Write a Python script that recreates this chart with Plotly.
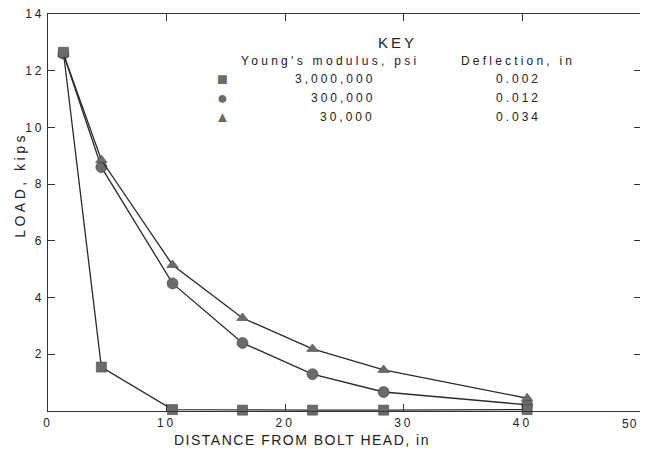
import plotly.graph_objects as go

distance = [1.3, 4.5, 10.5, 16.4, 22.3, 28.3, 40.4]
load_3000000 = [12.65, 1.55, 0.05, 0.03, 0.03, 0.03, 0.05]
load_300000 = [12.6, 8.6, 4.5, 2.4, 1.3, 0.67, 0.22]
load_30000 = [12.6, 8.85, 5.15, 3.28, 2.19, 1.45, 0.45]

key_moduli = ["3,000,000", "300,000", "30,000"]
key_deflections = ["0.002", "0.012", "0.034"]
key_symbols = ["■", "●", "▲"]

x_ticks = [0, 10, 20, 30, 40, 50]
y_ticks = [2, 4, 6, 8, 10, 12, 14]

FONT = "Liberation Sans"
MCOL = "#6b6b6b"
LCOL = "#2a2a2a"
TCOL = "#222222"


def spaced(text, ls):
    return f'<span style="letter-spacing:{ls}px">{text}</span>'


fig = go.Figure()
series = [
    (load_300000, "circle", 11),
    (load_30000, "triangle-up", 10),
    (load_3000000, "square", 10),
]
for ys, sym, sz in series:
    fig.add_trace(go.Scatter(
        x=distance, y=ys, mode="lines+markers",
        line=dict(color=LCOL, width=1.3),
        marker=dict(symbol=sym, size=sz, color=MCOL,
                    line=dict(color="#444444", width=0.6)),
        showlegend=False, cliponaxis=False,
    ))

axis_common = dict(
    showline=True, linecolor="#333333", linewidth=1.2, mirror="ticks",
    ticks="inside", ticklen=7, tickcolor="#333333", tickwidth=1.2,
    showgrid=False, zeroline=False, ticklabeloverflow="allow",
    automargin=False,
    tickfont=dict(family=FONT, size=12, color=TCOL),
)
# the last x label sits at the very edge; it is drawn as a right-anchored label below
x_ticktext = [spaced(str(v), 3) if v < x_ticks[-1] else "" for v in x_ticks]
fig.update_xaxes(range=[0, 50], tickvals=x_ticks, ticktext=x_ticktext, **axis_common)
fig.update_yaxes(range=[0, 14], tickvals=y_ticks,
                 ticktext=[spaced(str(v), 3) for v in y_ticks], **axis_common)

ann = []


def T(text, x, y, xanchor="center", size=12, color=TCOL, ls=3, angle=0):
    ann.append(dict(text=spaced(text, ls) if ls else text, x=x, y=y,
                    xref="paper", yref="paper", textangle=angle,
                    xanchor=xanchor, yanchor="middle", showarrow=False,
                    font=dict(family=FONT, size=size, color=color)))


T("KEY", 0.589, 0.929, size=15, ls=3)
T("Young's modulus, psi", 0.477, 0.882, size=12, ls=3.3)
T("Deflection, in", 0.793, 0.882, size=12, ls=3.2)
rows_y = [0.836, 0.788, 0.741]
sym_sizes = [18, 18, 15]
for sym, ss, mod, dfl, yy in zip(key_symbols, sym_sizes, key_moduli, key_deflections, rows_y):
    T(sym, 0.295, yy, size=ss, color=MCOL, ls=0)
    T(mod, 0.555, yy, xanchor="right", size=12, ls=3)
    T(dfl, 0.793, yy, size=12, ls=3)

T(str(x_ticks[-1]), 0.996, -0.032, xanchor="right", size=12, ls=1)
T("DISTANCE FROM BOLT HEAD, in", 0.428, -0.073, size=14, ls=1.5)
T("LOAD, kips", -0.047, 0.57, size=14, ls=3.5, angle=-90)

fig.update_layout(
    width=640, height=442,
    margin=dict(l=40, r=7, t=6, b=39, autoexpand=False),
    paper_bgcolor="white", plot_bgcolor="white",
    annotations=ann,
)
fig.write_html("out.html")
